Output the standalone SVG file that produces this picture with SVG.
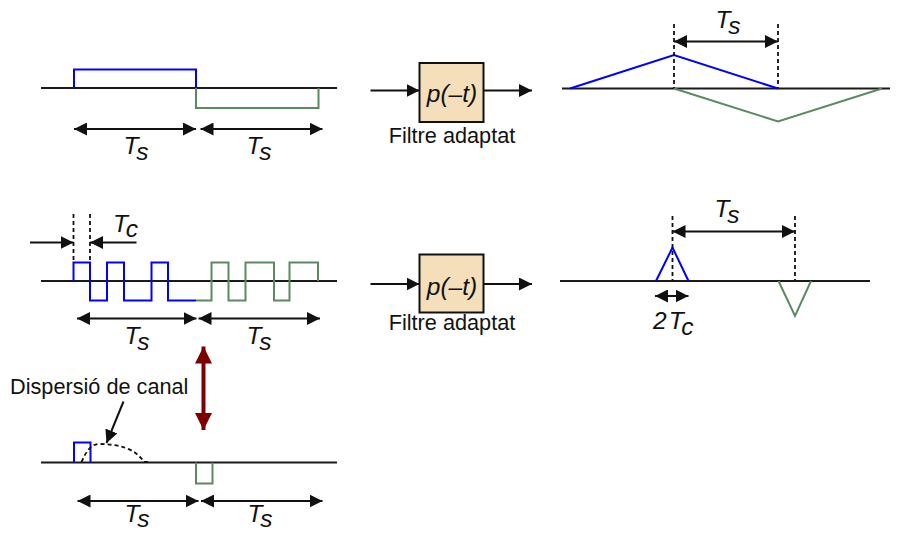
<svg xmlns="http://www.w3.org/2000/svg" width="898" height="534" viewBox="0 0 898 534">
<style>
.ax{stroke:#1a1a1a;stroke-width:2;fill:none}
.blue{stroke:#0000ff;stroke-width:2;fill:none}
.green{stroke:#5b8a62;stroke-width:2;fill:none}
.dim{stroke:#111;stroke-width:2;fill:none;marker-start:url(#ah);marker-end:url(#ah)}
.one{stroke:#111;stroke-width:2;fill:none;marker-end:url(#ah)}
.dash{stroke:#111;stroke-width:1.8;fill:none;stroke-dasharray:4 3}
.box{fill:#f5dfbb;stroke:#111;stroke-width:2}
.sym{font-family:"Liberation Sans",Arial,sans-serif;font-style:italic;font-size:24.5px;fill:#111}
.lbl{font-family:"Liberation Sans",Arial,sans-serif;font-size:21.7px;fill:#111}
</style>
<defs>
<marker id="ah" viewBox="0 0 13 13" refX="13" refY="6.5" markerWidth="13" markerHeight="13" orient="auto-start-reverse" markerUnits="userSpaceOnUse"><path d="M0,0 L13,6.5 L0,13 z" fill="#111"/></marker>
<marker id="rh" viewBox="0 0 17 17" refX="17" refY="8.5" markerWidth="17" markerHeight="17" orient="auto-start-reverse" markerUnits="userSpaceOnUse"><path d="M0,0 L17,8.5 L0,17 z" fill="#7b0000"/></marker>
</defs>

<g id="signal-rect">
<line class="ax" x1="41" y1="88" x2="337" y2="88"/>
<polyline class="blue" points="74,88 74,69.5 196,69.5 196,88"/>
<polyline class="green" points="196,88 196,108 318.5,108 318.5,88"/>
<text class="sym" x="136" y="154" text-anchor="middle">T<tspan dy="6">s</tspan></text>
<text class="sym" x="259" y="154" text-anchor="middle">T<tspan dy="6">s</tspan></text>
</g>

<g id="filter-1">
<rect class="box" x="419.5" y="63" width="64" height="59"/>
<text class="sym" x="452" y="102" text-anchor="middle" font-size="22">p(–t)</text>
<text class="lbl" x="452" y="143" text-anchor="middle">Filtre adaptat</text>
</g>

<g id="output-rect">
<line class="ax" x1="562" y1="88.5" x2="890" y2="88.5"/>
<polyline class="blue" points="570,88.5 674,55 778,88.5"/>
<polyline class="green" points="674,88.5 778,121.5 882,88.5"/>
<line class="dash" x1="674" y1="24" x2="674" y2="88"/>
<line class="dash" x1="778" y1="24" x2="778" y2="88"/>
<text class="sym" x="728" y="28" text-anchor="middle">T<tspan dy="6">s</tspan></text>
</g>

<g id="signal-spread">
<line class="ax" x1="41" y1="281" x2="337" y2="281"/>
<polyline class="blue" points="73.5,281 73.5,262.5 90,262.5 90,300.5 107,300.5 107,262.5 124,262.5 124,300.5 151.5,300.5 151.5,262.5 168,262.5 168,300.5 196,300.5"/>
<polyline class="green" points="196,300.5 211.5,300.5 211.5,262.5 228.5,262.5 228.5,300.5 245.5,300.5 245.5,262.5 274,262.5 274,300.5 289.5,300.5 289.5,262.5 318,262.5 318,281"/>
<line class="dash" x1="73.5" y1="214" x2="73.5" y2="262"/>
<line class="dash" x1="90" y1="214" x2="90" y2="262"/>
<text class="sym" x="113" y="232">T<tspan dy="5">c</tspan></text>
<text class="sym" x="137" y="344" text-anchor="middle">T<tspan dy="6">s</tspan></text>
<text class="sym" x="259" y="344" text-anchor="middle">T<tspan dy="6">s</tspan></text>
</g>

<g id="filter-2">
<rect class="box" x="419.5" y="254.5" width="64" height="58"/>
<text class="sym" x="452" y="295" text-anchor="middle" font-size="22">p(–t)</text>
<text class="lbl" x="452" y="330" text-anchor="middle">Filtre adaptat</text>
</g>

<g id="output-spread">
<line class="ax" x1="560" y1="281" x2="870" y2="281"/>
<polyline class="blue" points="656,281 672.5,247.5 688.5,281"/>
<polyline class="green" points="778.5,281 795,316 811,281"/>
<line class="dash" x1="672.5" y1="216" x2="672.5" y2="281"/>
<line class="dash" x1="795" y1="216" x2="795" y2="281"/>
<text class="sym" x="727" y="217" text-anchor="middle">T<tspan dy="5.5">s</tspan></text>
<text class="sym" x="653" y="329">2<tspan dx="2">T</tspan><tspan dy="5.5">c</tspan></text>
</g>

<g id="signal-dispersed">
<line class="ax" x1="41" y1="462.5" x2="337" y2="462.5"/>
<polyline class="blue" points="74,462.5 74,442.5 90.5,442.5 90.5,462.5"/>
<polyline class="green" points="196,462.5 196,483.5 212.5,483.5 212.5,462.5"/>
<path class="dash" d="M81.5,462 C86,452 90,445 98,444 C118,444 135,448 144,462 L150,462"/>
<text class="lbl" x="10" y="394">Dispersió de canal</text>
<text class="sym" x="137" y="522" text-anchor="middle">T<tspan dy="5">s</tspan></text>
<text class="sym" x="260" y="522" text-anchor="middle">T<tspan dy="5">s</tspan></text>
</g>

<g id="connectors">
<line class="dim" x1="74" y1="129" x2="196" y2="129"/>
<line class="dim" x1="200.5" y1="129" x2="322.5" y2="129"/>
<line class="one" x1="370.5" y1="90.5" x2="419.5" y2="90.5"/>
<line class="one" x1="483.5" y1="90.5" x2="532" y2="90.5"/>
<line class="dim" x1="674" y1="41.5" x2="778" y2="41.5"/>
<line class="one" x1="30" y1="242.5" x2="73.5" y2="242.5"/>
<line class="one" x1="136.5" y1="242.5" x2="90" y2="242.5"/>
<line class="dim" x1="77" y1="318.5" x2="196.5" y2="318.5"/>
<line class="dim" x1="198.5" y1="318.5" x2="320" y2="318.5"/>
<line class="one" x1="370.5" y1="284" x2="419.5" y2="284"/>
<line class="one" x1="483.5" y1="284" x2="532" y2="284"/>
<line class="dim" x1="672.5" y1="231.5" x2="795" y2="231.5"/>
<line class="dim" x1="655" y1="296" x2="688.5" y2="296"/>
<line stroke="#7b0000" stroke-width="4" marker-start="url(#rh)" marker-end="url(#rh)" x1="203.5" y1="346.5" x2="203.5" y2="430"/>
<line class="one" x1="123.5" y1="401.5" x2="106.5" y2="443"/>
<line class="dim" x1="77.5" y1="501" x2="198.5" y2="501"/>
<line class="dim" x1="201" y1="501" x2="322.5" y2="501"/>
</g>
</svg>
